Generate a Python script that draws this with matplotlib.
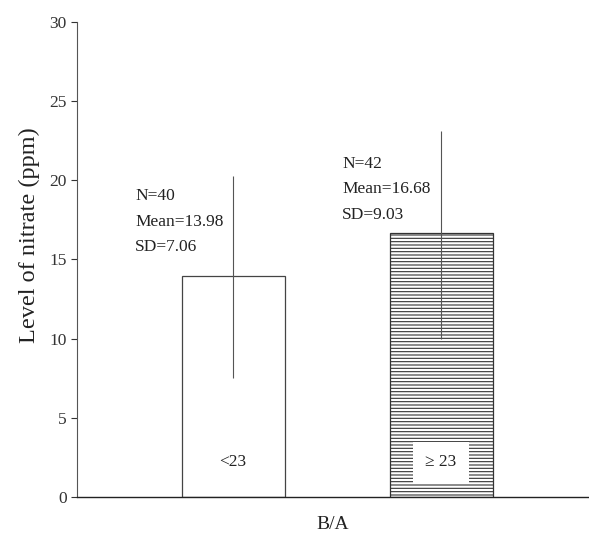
import matplotlib
matplotlib.use("Agg")
import matplotlib.pyplot as plt

plt.rcParams['font.family'] = ['Liberation Serif', 'DejaVu Serif']
plt.rcParams['hatch.linewidth'] = 0.8
plt.rcParams['hatch.color'] = '#333333'

groups = ["<23", "\u2265 23"]
means = [13.98, 16.68]
err_low = [7.5, 10.0]
err_high = [20.3, 23.1]
notes = ["N=40\nMean=13.98\nSD=7.06", "N=42\nMean=16.68\nSD=9.03"]

fig = plt.figure(figsize=(5.89, 5.44), dpi=100)
ax = fig.add_axes([0.1307, 0.0864, 0.8693, 0.8732])

x = [0, 1]
ax.bar(x[0], means[0], width=0.495, color='white', edgecolor='#444444', linewidth=0.9)
ax.bar(x[1], means[1], width=0.495, color='white', edgecolor='#333333', linewidth=0.9, hatch='-----')

yerr = [[m - lo for m, lo in zip(means, err_low)], [hi - m for m, hi in zip(means, err_high)]]
ax.errorbar(x, means, yerr=yerr, fmt='none', ecolor='#555555', elinewidth=0.8, capsize=0)

# notes above each bar
ax.text(-0.47, 19.5, notes[0], fontsize=12.5, va='top', ha='left', linespacing=1.8, color='#222222')
ax.text(0.524, 21.55, notes[1], fontsize=12.5, va='top', ha='left', linespacing=1.8, color='#222222')

# group labels inside bars
ax.text(x[0], 2.2, groups[0], fontsize=12.5, ha='center', va='center', color='#222222')
ax.text(x[1], 2.2, groups[1], fontsize=12.5, ha='center', va='center', color='#222222',
        bbox=dict(facecolor='white', edgecolor='none', pad=9))

ax.set_xlim(-0.75, 1.711)
ax.set_ylim(0, 30)
ax.set_yticks(range(0, 31, 5))
ax.set_xticks([])
ax.tick_params(axis='y', labelsize=12.5, length=4, width=0.8, colors='#333333')
ax.spines['top'].set_visible(False)
ax.spines['right'].set_visible(False)
ax.spines['left'].set_color('#555555')
ax.spines['left'].set_linewidth(0.8)
ax.spines['bottom'].set_color('#222222')
ax.spines['bottom'].set_linewidth(1.0)

ax.set_ylabel("Level of nitrate (ppm)", fontsize=17.5, color='#222222')
ax.yaxis.set_label_coords(-0.073, 0.552)
ax.set_xlabel("B/A", fontsize=14, color='#222222', labelpad=14)

fig.savefig("out.png", dpi=100)
